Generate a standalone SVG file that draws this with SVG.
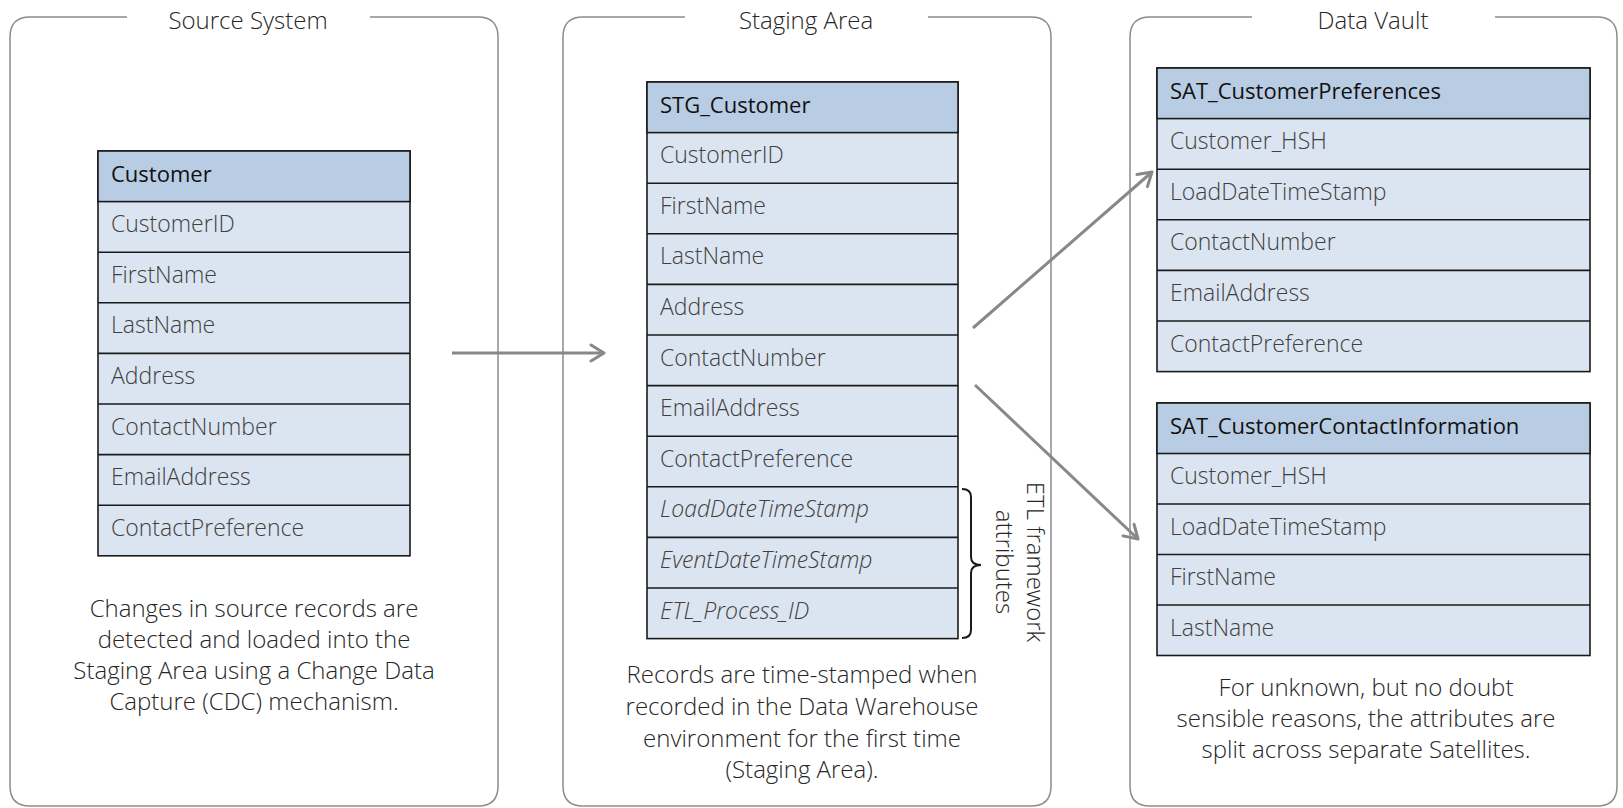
<svg xmlns="http://www.w3.org/2000/svg" width="1623" height="808" viewBox="0 0 1623 808">
  <style>
    .panel { fill: none; stroke: #8c8c8c; stroke-width: 1.5; }
    .title { font-family: "Open Sans", "Liberation Sans", sans-serif; font-weight: 300; font-size: 24px; fill: #262626; text-anchor: middle; }
    .cap { font-family: "Open Sans", "Liberation Sans", sans-serif; font-weight: 300; font-size: 24px; fill: #262626; text-anchor: middle; }
    .hdr { fill: #b8cce4; stroke: #1a1a1a; stroke-width: 1.6; }
    .body { fill: #dbe5f1; stroke: #1a1a1a; stroke-width: 1.6; }
    .sep { stroke: #1a1a1a; stroke-width: 1.6; }
    .hname { font-family: "Open Sans", "Liberation Sans", sans-serif; font-weight: 400; font-size: 22px; fill: #111; }
    .attr { font-family: "Open Sans", "Liberation Sans", sans-serif; font-weight: 300; font-size: 23px; fill: #404040; }
    .it { font-style: italic; }
    .conn { stroke: #888; stroke-width: 3; fill: none; marker-end: url(#arrow); }
    .brace { fill: none; stroke: #1a1a1a; stroke-width: 2; }
  </style>
  <defs>
    <marker id="arrow" markerUnits="userSpaceOnUse" markerWidth="18" markerHeight="20" viewBox="0 0 18 20" refX="15" refY="10" orient="auto">
      <path d="M2,2 L15,10 L2,18" fill="none" stroke="#888" stroke-width="3" stroke-linecap="round" stroke-linejoin="round"/>
    </marker>
  </defs>
  <rect width="1623" height="808" fill="#fff"/>

  <!-- Source System panel -->
  <g id="panel-source">
    <path class="panel" d="M370,17 H478 Q498,17 498,37 V786 Q498,806 478,806 H30 Q10,806 10,786 V37 Q10,17 30,17 H127"/>
    <text class="title" x="248" y="29">Source System</text>
    <text class="cap" x="254" y="617">Changes in source records are</text>
    <text class="cap" x="254" y="648">detected and loaded into the</text>
    <text class="cap" x="254" y="679">Staging Area using a Change Data</text>
    <text class="cap" x="254" y="710">Capture (CDC) mechanism.</text>
  </g>

  <!-- Staging Area panel -->
  <g id="panel-staging">
    <path class="panel" d="M928,17 H1031 Q1051,17 1051,37 V786 Q1051,806 1031,806 H583 Q563,806 563,786 V37 Q563,17 583,17 H685"/>
    <text class="title" x="806" y="29">Staging Area</text>
    <text class="cap" x="802" y="683">Records are time-stamped when</text>
    <text class="cap" x="802" y="715">recorded in the Data Warehouse</text>
    <text class="cap" x="802" y="747">environment for the first time</text>
    <text class="cap" x="802" y="778">(Staging Area).</text>
  </g>

  <!-- Data Vault panel -->
  <g id="panel-vault">
    <path class="panel" d="M1495,17 H1597 Q1617,17 1617,37 V786 Q1617,806 1597,806 H1150 Q1130,806 1130,786 V37 Q1130,17 1150,17 H1252"/>
    <text class="title" x="1373" y="29">Data Vault</text>
    <text class="cap" x="1366" y="696">For unknown, but no doubt</text>
    <text class="cap" x="1366" y="727">sensible reasons, the attributes are</text>
    <text class="cap" x="1366" y="758">split across separate Satellites.</text>
  </g>

  <!-- Source table -->
  <g id="tbl-customer">
    <rect class="body" x="98" y="151" width="312" height="404.8"/>
    <rect class="hdr" x="98" y="151" width="312" height="50.6"/>
    <g class="sep">
      <line x1="98" y1="252.2" x2="410" y2="252.2"/>
      <line x1="98" y1="302.8" x2="410" y2="302.8"/>
      <line x1="98" y1="353.4" x2="410" y2="353.4"/>
      <line x1="98" y1="404" x2="410" y2="404"/>
      <line x1="98" y1="454.6" x2="410" y2="454.6"/>
      <line x1="98" y1="505.2" x2="410" y2="505.2"/>
    </g>
    <text class="hname" x="111" y="181.5">Customer</text>
    <text class="attr" x="111" y="232.1">CustomerID</text>
    <text class="attr" x="111" y="282.7">FirstName</text>
    <text class="attr" x="111" y="333.3">LastName</text>
    <text class="attr" x="111" y="383.9">Address</text>
    <text class="attr" x="111" y="434.5">ContactNumber</text>
    <text class="attr" x="111" y="485.1">EmailAddress</text>
    <text class="attr" x="111" y="535.7">ContactPreference</text>
  </g>

  <!-- Staging table -->
  <g id="tbl-stg-customer">
    <rect class="body" x="647" y="82" width="311" height="556.6"/>
    <rect class="hdr" x="647" y="82" width="311" height="50.6"/>
    <g class="sep">
      <line x1="647" y1="183.2" x2="958" y2="183.2"/>
      <line x1="647" y1="233.8" x2="958" y2="233.8"/>
      <line x1="647" y1="284.4" x2="958" y2="284.4"/>
      <line x1="647" y1="335" x2="958" y2="335"/>
      <line x1="647" y1="385.6" x2="958" y2="385.6"/>
      <line x1="647" y1="436.2" x2="958" y2="436.2"/>
      <line x1="647" y1="486.8" x2="958" y2="486.8"/>
      <line x1="647" y1="537.4" x2="958" y2="537.4"/>
      <line x1="647" y1="588" x2="958" y2="588"/>
    </g>
    <text class="hname" x="660" y="112.5">STG_Customer</text>
    <text class="attr" x="660" y="163.1">CustomerID</text>
    <text class="attr" x="660" y="213.7">FirstName</text>
    <text class="attr" x="660" y="264.3">LastName</text>
    <text class="attr" x="660" y="314.9">Address</text>
    <text class="attr" x="660" y="365.5">ContactNumber</text>
    <text class="attr" x="660" y="416.1">EmailAddress</text>
    <text class="attr" x="660" y="466.7">ContactPreference</text>
    <text class="attr it" x="660" y="517.3">LoadDateTimeStamp</text>
    <text class="attr it" x="660" y="567.9">EventDateTimeStamp</text>
    <text class="attr it" x="660" y="618.5">ETL_Process_ID</text>
  </g>

  <!-- ETL framework attributes brace -->
  <g id="etl-note">
    <path class="brace" d="M962,489 Q971,489 971,497 V557 Q971,565 981,565 Q971,565 971,573 V630 Q971,638 962,638"/>
    <g transform="translate(1027,562) rotate(90)">
      <text class="cap" x="0" y="0">ETL framework</text>
      <text class="cap" x="0" y="31">attributes</text>
    </g>
  </g>

  <!-- Satellite: preferences -->
  <g id="tbl-sat-prefs">
    <rect class="body" x="1157" y="68" width="433" height="303.6"/>
    <rect class="hdr" x="1157" y="68" width="433" height="50.6"/>
    <g class="sep">
      <line x1="1157" y1="169.2" x2="1590" y2="169.2"/>
      <line x1="1157" y1="219.8" x2="1590" y2="219.8"/>
      <line x1="1157" y1="270.4" x2="1590" y2="270.4"/>
      <line x1="1157" y1="321" x2="1590" y2="321"/>
    </g>
    <text class="hname" x="1170" y="98.5">SAT_CustomerPreferences</text>
    <text class="attr" x="1170" y="149.1">Customer_HSH</text>
    <text class="attr" x="1170" y="199.7">LoadDateTimeStamp</text>
    <text class="attr" x="1170" y="250.3">ContactNumber</text>
    <text class="attr" x="1170" y="300.9">EmailAddress</text>
    <text class="attr" x="1170" y="351.5">ContactPreference</text>
  </g>

  <!-- Satellite: contact information -->
  <g id="tbl-sat-contact">
    <rect class="body" x="1157" y="403" width="433" height="252.5"/>
    <rect class="hdr" x="1157" y="403" width="433" height="50.5"/>
    <g class="sep">
      <line x1="1157" y1="504" x2="1590" y2="504"/>
      <line x1="1157" y1="554.5" x2="1590" y2="554.5"/>
      <line x1="1157" y1="605" x2="1590" y2="605"/>
    </g>
    <text class="hname" x="1170" y="433.5">SAT_CustomerContactInformation</text>
    <text class="attr" x="1170" y="484">Customer_HSH</text>
    <text class="attr" x="1170" y="534.5">LoadDateTimeStamp</text>
    <text class="attr" x="1170" y="585">FirstName</text>
    <text class="attr" x="1170" y="635.5">LastName</text>
  </g>

  <!-- Connectors -->
  <g id="connectors">
    <line class="conn" x1="452" y1="353" x2="604" y2="353"/>
    <line class="conn" x1="973" y1="328" x2="1152" y2="172"/>
    <line class="conn" x1="975" y1="385" x2="1138" y2="539"/>
  </g>
</svg>
